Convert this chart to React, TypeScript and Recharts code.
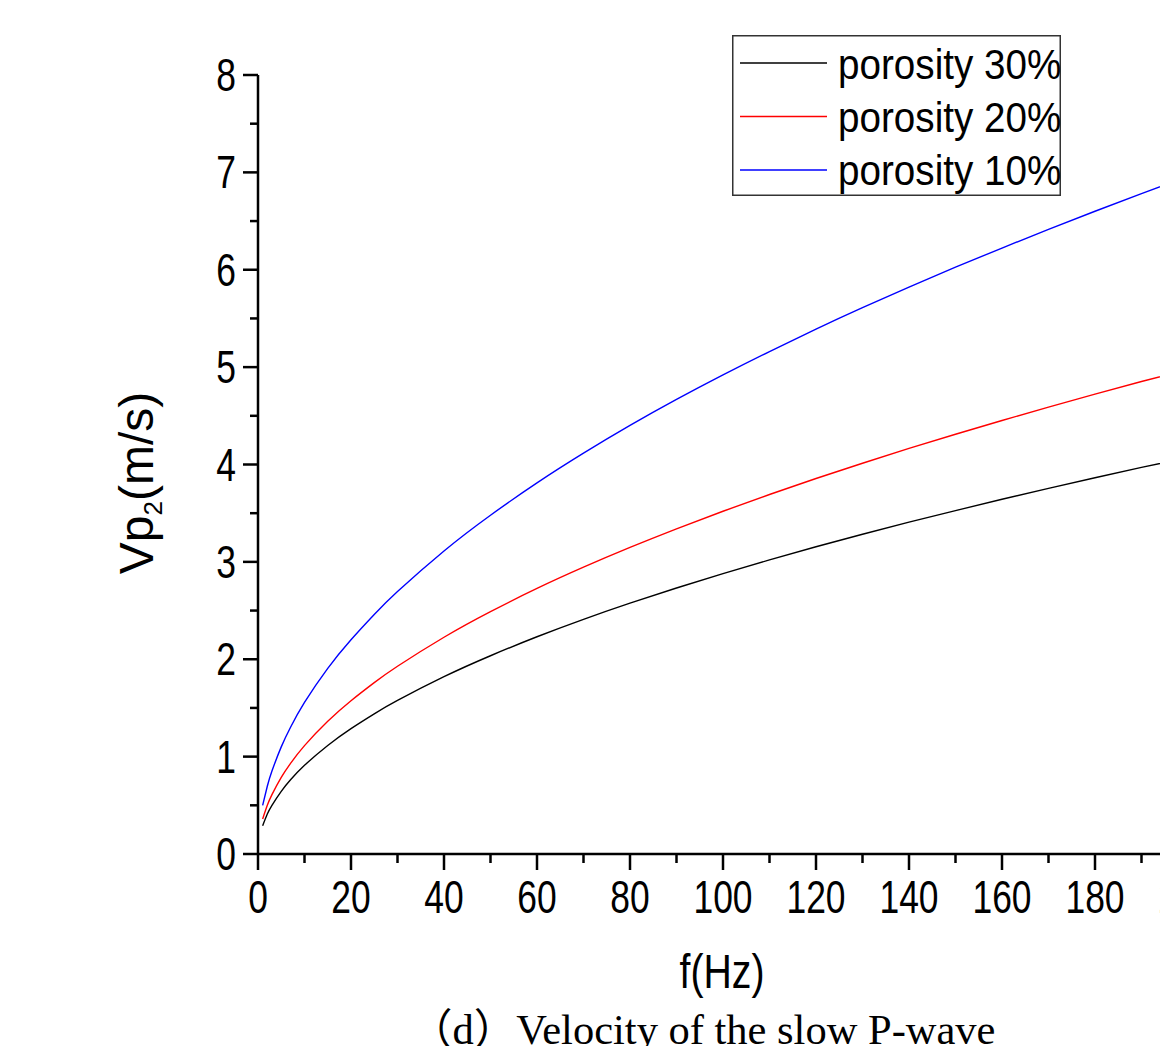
import { Customized, Legend, Line, LineChart, XAxis, YAxis } from "recharts";

// frequency samples (Hz) and slow P-wave velocity (m/s)
const freq = [1, 2, 3, 5, 7, 10, 15, 20, 25, 30, 40, 50, 60, 70, 80, 90, 100, 110, 120, 130, 140, 150, 160, 170, 180, 190, 200];
const vp30 = [0.29, 0.41, 0.5, 0.644, 0.762, 0.911, 1.115, 1.288, 1.44, 1.577, 1.821, 2.036, 2.231, 2.41, 2.576, 2.732, 2.88, 3.02, 3.155, 3.284, 3.408, 3.527, 3.643, 3.755, 3.864, 3.97, 4.073];
const vp20 = [0.36, 0.5, 0.61, 0.787, 0.931, 1.113, 1.363, 1.574, 1.76, 1.928, 2.226, 2.489, 2.727, 2.945, 3.148, 3.339, 3.52, 3.692, 3.856, 4.013, 4.165, 4.311, 4.452, 4.589, 4.722, 4.852, 4.978];
const vp10 = [0.5, 0.696, 0.852, 1.1, 1.302, 1.556, 1.906, 2.2, 2.46, 2.695, 3.112, 3.479, 3.811, 4.116, 4.401, 4.668, 4.92, 5.16, 5.39, 5.61, 5.821, 6.026, 6.223, 6.415, 6.601, 6.782, 6.958];

const seriesNames = ["porosity 30%", "porosity 20%", "porosity 10%"];
const seriesKeys = ["p30", "p20", "p10"];
const seriesColors = ["#000000", "#ff0000", "#0000ff"];

const xTicks = [0, 10, 20, 30, 40, 50, 60, 70, 80, 90, 100, 110, 120, 130, 140, 150, 160, 170, 180, 190, 200];
const yTicks = [0, 0.5, 1, 1.5, 2, 2.5, 3, 3.5, 4, 4.5, 5, 5.5, 6, 6.5, 7, 7.5, 8];

const data = freq.map((f, i) => ({ f, p30: vp30[i], p20: vp20[i], p10: vp10[i] }));

const SANS = "'Liberation Sans', Arial, sans-serif";
const SERIF = "'Liberation Serif', 'Times New Roman', 'Noto Sans CJK SC', serif";

// horizontally condensed text, like the original Origin export
const NarrowText = ({ x, y, sx, size, anchor = "start", children }: any) => (
  <text
    transform={`translate(${x} ${y}) scale(${sx} 1)`}
    textAnchor={anchor}
    fontSize={size}
    fontFamily={SANS}
    fill="#000"
  >
    {children}
  </text>
);

const XTick = (props: any) => {
  const { x, y, payload } = props;
  const major = payload.value % 20 === 0;
  return (
    <g>
      <line x1={x} y1={y} x2={x} y2={y + (major ? 16 : 9)} stroke="#000" strokeWidth={2.5} />
      {major && (
        <NarrowText x={x} y={y + 59} sx={0.77} size={46} anchor="middle">
          {payload.value}
        </NarrowText>
      )}
    </g>
  );
};

const YTick = (props: any) => {
  const { x, y, payload } = props;
  const major = Number.isInteger(payload.value);
  return (
    <g>
      <line x1={x} y1={y} x2={x - (major ? 15 : 8)} y2={y} stroke="#000" strokeWidth={2.5} />
      {major && (
        <NarrowText x={x - 22} y={y + 16} sx={0.77} size={46} anchor="end">
          {payload.value}
        </NarrowText>
      )}
    </g>
  );
};

const LegendBox = () => (
  <svg width={329} height={161} style={{ display: "block" }}>
    <rect x={0.75} y={0.75} width={327.5} height={159.5} fill="#fff" stroke="#333" strokeWidth={1.5} />
    {seriesNames.map((name, i) => (
      <g key={name}>
        <line x1={8} x2={95} y1={28 + i * 53.5} y2={28 + i * 53.5} stroke={seriesColors[i]} strokeWidth={1.5} />
        <NarrowText x={106} y={44 + i * 53} sx={0.92} size={42}>
          {name}
        </NarrowText>
      </g>
    ))}
  </svg>
);

const YLabel = () => (
  <text
    x={153}
    y={483}
    transform="rotate(-90 153 483)"
    textAnchor="middle"
    fontSize={48}
    fontFamily={SANS}
    fill="#000"
  >
    Vp<tspan fontSize={26} dy={9}>2</tspan>
    <tspan dy={-9}>(m/s)</tspan>
  </text>
);

const XLabel = () => (
  <NarrowText x={722} y={988} sx={0.8} size={49} anchor="middle">
    f(Hz)
  </NarrowText>
);

const Caption = () => (
  <text x={410} y={1044} fontSize={42.5} fontFamily={SERIF} fill="#000">
    （d）Velocity of the slow P-wave
  </text>
);

export default function App() {
  return (
    <div
      style={{
        position: "absolute",
        left: 0,
        top: 0,
        width: 1160,
        height: 1046,
        overflow: "hidden",
        background: "#fff",
      }}
    >
      <LineChart width={1240} height={1046} data={data} margin={{ top: 75, right: 52, left: 0, bottom: 132 }}>
        <XAxis
          dataKey="f"
          type="number"
          domain={[0, 200]}
          ticks={xTicks}
          interval={0}
          tickSize={0}
          tickMargin={0}
          tickLine={false}
          tick={<XTick />}
          axisLine={{ stroke: "#000", strokeWidth: 2.5 }}
          height={60}
          label={{ content: <XLabel /> }}
        />
        <YAxis
          type="number"
          domain={[0, 8]}
          ticks={yTicks}
          interval={0}
          tickSize={0}
          tickMargin={0}
          tickLine={false}
          tick={<YTick />}
          axisLine={{ stroke: "#000", strokeWidth: 2.5 }}
          width={258}
          label={{ content: <YLabel /> }}
        />
        <Legend
          layout="vertical"
          align="center"
          verticalAlign="middle"
          content={<LegendBox />}
          wrapperStyle={{ left: 732, top: 35, width: 329, height: 161 }}
        />
        {seriesKeys.map((k, i) => (
          <Line
            key={k}
            name={seriesNames[i]}
            dataKey={k}
            type="natural"
            stroke={seriesColors[i]}
            strokeWidth={1.4}
            dot={false}
            isAnimationActive={false}
          />
        ))}
        <Customized component={<Caption />} />
      </LineChart>
    </div>
  );
}
